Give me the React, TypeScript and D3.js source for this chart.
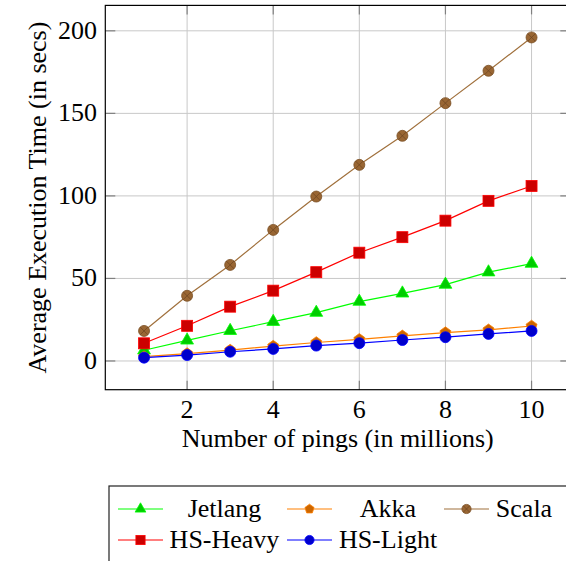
import React from 'react'
import * as d3 from 'd3'

// pings (millions)
const PINGS = [1, 2, 3, 4, 5, 6, 7, 8, 9, 10]

// average execution time (secs)
const JETLANG = [6.5, 12.5, 18.3, 23.8, 29.3, 36, 41, 46.3, 53.8, 59]
const AKKA = [2.6, 4.5, 6.6, 9, 11.2, 13.1, 15.2, 17.2, 18.9, 21.2]
const SCALA = [18.2, 39.5, 58.2, 79.4, 99.6, 118.8, 136.4, 156.2, 175.8, 196]
const HS_HEAVY = [10.7, 21.3, 32.9, 42.6, 53.8, 65.6, 75, 85, 97, 106]
const HS_LIGHT = [2, 3.6, 5.6, 7.3, 9.3, 10.8, 12.7, 14.4, 16.4, 18.2]

const X_TICKS = [2, 4, 6, 8, 10]
const Y_TICKS = [0, 50, 100, 150, 200]

const SERIES = [
  { name: 'Jetlang', values: JETLANG, line: '#00ff00', fill: '#00cc00', mark: 'triangle' },
  { name: 'Akka', values: AKKA, line: '#ff8000', fill: '#cc6600', mark: 'pentagon' },
  { name: 'Scala', values: SCALA, line: '#a0703c', fill: '#996633', mark: 'otimes' },
  { name: 'HS-Heavy', values: HS_HEAVY, line: '#ff0000', fill: '#cc0000', mark: 'square' },
  { name: 'HS-Light', values: HS_LIGHT, line: '#0000ff', fill: '#0000cc', mark: 'circle' },
]

const TXT = { fontFamily: 'Liberation Serif', fill: '#000' }

function Marker({ type, cx, cy, s, fill, stroke }) {
  // s is roughly the half-size of the mark
  if (type === 'square') {
    return <rect x={cx - s} y={cy - s} width={2 * s} height={2 * s} fill={fill} stroke={stroke} strokeWidth={0.8} />
  }
  if (type === 'triangle') {
    const r = s * 1.35
    const pts = [0, 1, 2].map(i => {
      const a = -Math.PI / 2 + (i * 2 * Math.PI) / 3
      return `${cx + r * Math.cos(a)},${cy + r * Math.sin(a)}`
    })
    return <polygon points={pts.join(' ')} fill={fill} stroke={stroke} strokeWidth={0.8} />
  }
  if (type === 'pentagon') {
    const r = s * 1.05
    const pts = [0, 1, 2, 3, 4].map(i => {
      const a = -Math.PI / 2 + (i * 2 * Math.PI) / 5
      return `${cx + r * Math.cos(a)},${cy + r * Math.sin(a)}`
    })
    return <polygon points={pts.join(' ')} fill={fill} stroke={stroke} strokeWidth={0.8} />
  }
  if (type === 'otimes') {
    const d = s * 0.7
    return (
      <g>
        <circle cx={cx} cy={cy} r={s} fill={fill} stroke="#7a4f24" strokeWidth={0.8} />
        <path d={`M${cx - d},${cy - d}L${cx + d},${cy + d}M${cx - d},${cy + d}L${cx + d},${cy - d}`} stroke="#6b4420" strokeWidth={0.7} />
      </g>
    )
  }
  return <circle cx={cx} cy={cy} r={s} fill={fill} stroke={stroke} strokeWidth={0.8} />
}

export default function App() {
  const left = 105.3, right = 570.3, top = 5.4, bottom = 389.7

  const x = d3.scaleLinear().domain([0.1, 10.9]).range([left, right])
  const y = d3.scaleLinear().domain([-17.4, 215.4]).range([bottom, top])

  const line = d3.line<number>()
    .x((_, i) => x(PINGS[i]))
    .y(d => y(d))

  const legendRows = [
    [
      { s: SERIES[0], sx: 118, tx: 224.5 },
      { s: SERIES[1], sx: 287, tx: 388 },
      { s: SERIES[2], sx: 444, tx: 524 },
    ],
    [
      { s: SERIES[3], sx: 118, tx: 224.5 },
      { s: SERIES[4], sx: 287, tx: 388 },
    ],
  ]

  return (
    <svg width={566} height={561} style={{ position: 'absolute', left: 0, top: 0, background: '#fff' }}>
      {/* grid */}
      {X_TICKS.map(t => (
        <line key={'gx' + t} x1={x(t)} x2={x(t)} y1={top} y2={bottom} stroke="#c8c8c8" strokeWidth={1} />
      ))}
      {Y_TICKS.map(t => (
        <line key={'gy' + t} x1={left} x2={right} y1={y(t)} y2={y(t)} stroke="#c8c8c8" strokeWidth={1} />
      ))}

      {/* ticks, drawn inside on every side */}
      {X_TICKS.map(t => (
        <g key={'tx' + t} stroke="#808080" strokeWidth={1.2}>
          <line x1={x(t)} x2={x(t)} y1={bottom} y2={bottom - 9} />
          <line x1={x(t)} x2={x(t)} y1={top} y2={top + 9} />
        </g>
      ))}
      {Y_TICKS.map(t => (
        <g key={'ty' + t} stroke="#808080" strokeWidth={1.2}>
          <line x1={left} x2={left + 10} y1={y(t)} y2={y(t)} />
          <line x1={right} x2={right - 10} y1={y(t)} y2={y(t)} />
        </g>
      ))}

      {/* series */}
      {SERIES.map(s => (
        <g key={s.name}>
          <path d={line(s.values) || ''} fill="none" stroke={s.line} strokeWidth={1.2} />
          {s.values.map((v, i) => (
            <Marker key={i} type={s.mark} cx={x(PINGS[i])} cy={y(v)} s={5.5} fill={s.fill} stroke={s.line} />
          ))}
        </g>
      ))}

      {/* frame */}
      <rect x={left} y={top} width={right - left} height={bottom - top} fill="none" stroke="#000" strokeWidth={1.2} />

      {/* tick labels */}
      {X_TICKS.map(t => (
        <text key={'lx' + t} x={x(t)} y={418} textAnchor="middle" fontSize={26} style={TXT}>{t}</text>
      ))}
      {Y_TICKS.map(t => (
        <text key={'ly' + t} x={97} y={y(t) + 8} textAnchor="end" fontSize={26} style={TXT}>{t}</text>
      ))}

      {/* axis titles */}
      <text x={(left + right) / 2} y={447} textAnchor="middle" fontSize={26} style={TXT}>Number of pings (in millions)</text>
      <text transform={`translate(46,${(top + bottom) / 2}) rotate(-90)`} textAnchor="middle" fontSize={26} style={TXT}>
        Average Execution Time (in secs)
      </text>

      {/* legend */}
      <rect x={109} y={486} width={470} height={90} fill="#fff" stroke="#222" strokeWidth={1.2} />
      {legendRows.map((row, ri) => (
        <g key={ri} transform={`translate(0,${ri === 0 ? 509 : 540})`}>
          {row.map(({ s, sx, tx }) => (
            <g key={s.name}>
              <line x1={sx} x2={sx + 45} y1={0} y2={0} stroke={s.line} strokeWidth={1.2} />
              <Marker type={s.mark} cx={sx + 22.5} cy={0} s={4.6} fill={s.fill} stroke={s.line} />
              <text x={tx} y={8} textAnchor="middle" fontSize={26} style={TXT}>{s.name}</text>
            </g>
          ))}
        </g>
      ))}
    </svg>
  )
}
